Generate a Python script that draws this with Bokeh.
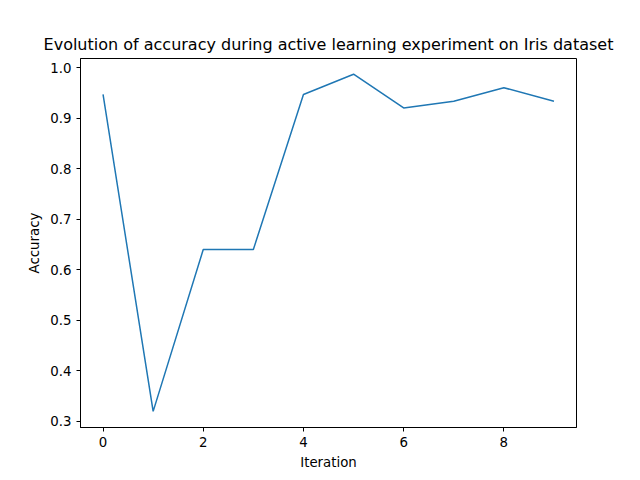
from bokeh.plotting import figure
from bokeh.embed import file_html
from bokeh.resources import INLINE
from bokeh.models import Range1d, FixedTicker, NumeralTickFormatter

iterations = [0, 1, 2, 3, 4, 5, 6, 7, 8, 9]
accuracy = [0.9467, 0.32, 0.64, 0.64, 0.9467, 0.9867, 0.92, 0.9333, 0.96, 0.9333]

p = figure(width=640, height=480, output_backend="svg", toolbar_location=None,
           x_range=Range1d(-0.45, 9.45), y_range=Range1d(0.2881, 1.0178),
           title="Evolution of accuracy during active learning experiment on Iris dataset",
           x_axis_label="Iteration", y_axis_label="Accuracy",
           min_border_left=80, min_border_right=64, min_border_top=58, min_border_bottom=53)
p.line(iterations, accuracy, line_color="#1f77b4", line_width=1.5)
p.grid.visible = False
p.outline_line_color = "black"
p.title.align = "center"
p.title.text_font = "DejaVu Sans"
p.title.text_font_size = "12pt"
p.title.text_font_style = "normal"
p.title.text_color = "black"
p.xaxis.ticker = FixedTicker(ticks=[0, 2, 4, 6, 8])
p.yaxis.ticker = FixedTicker(ticks=[0.3, 0.4, 0.5, 0.6, 0.7, 0.8, 0.9, 1.0])
p.yaxis.formatter = NumeralTickFormatter(format="0.0")
for ax in (p.xaxis, p.yaxis):
    ax.major_label_text_font = "DejaVu Sans"
    ax.major_label_text_font_size = "10pt"
    ax.major_label_text_color = "black"
    ax.axis_label_text_font = "DejaVu Sans"
    ax.axis_label_text_font_size = "10pt"
    ax.axis_label_text_font_style = "normal"
    ax.axis_label_text_color = "black"
    ax.minor_tick_line_color = None
    ax.major_tick_out = 4
    ax.major_tick_in = 0
    ax.axis_line_color = "black"

open("out.html", "w").write(file_html(p, INLINE))
